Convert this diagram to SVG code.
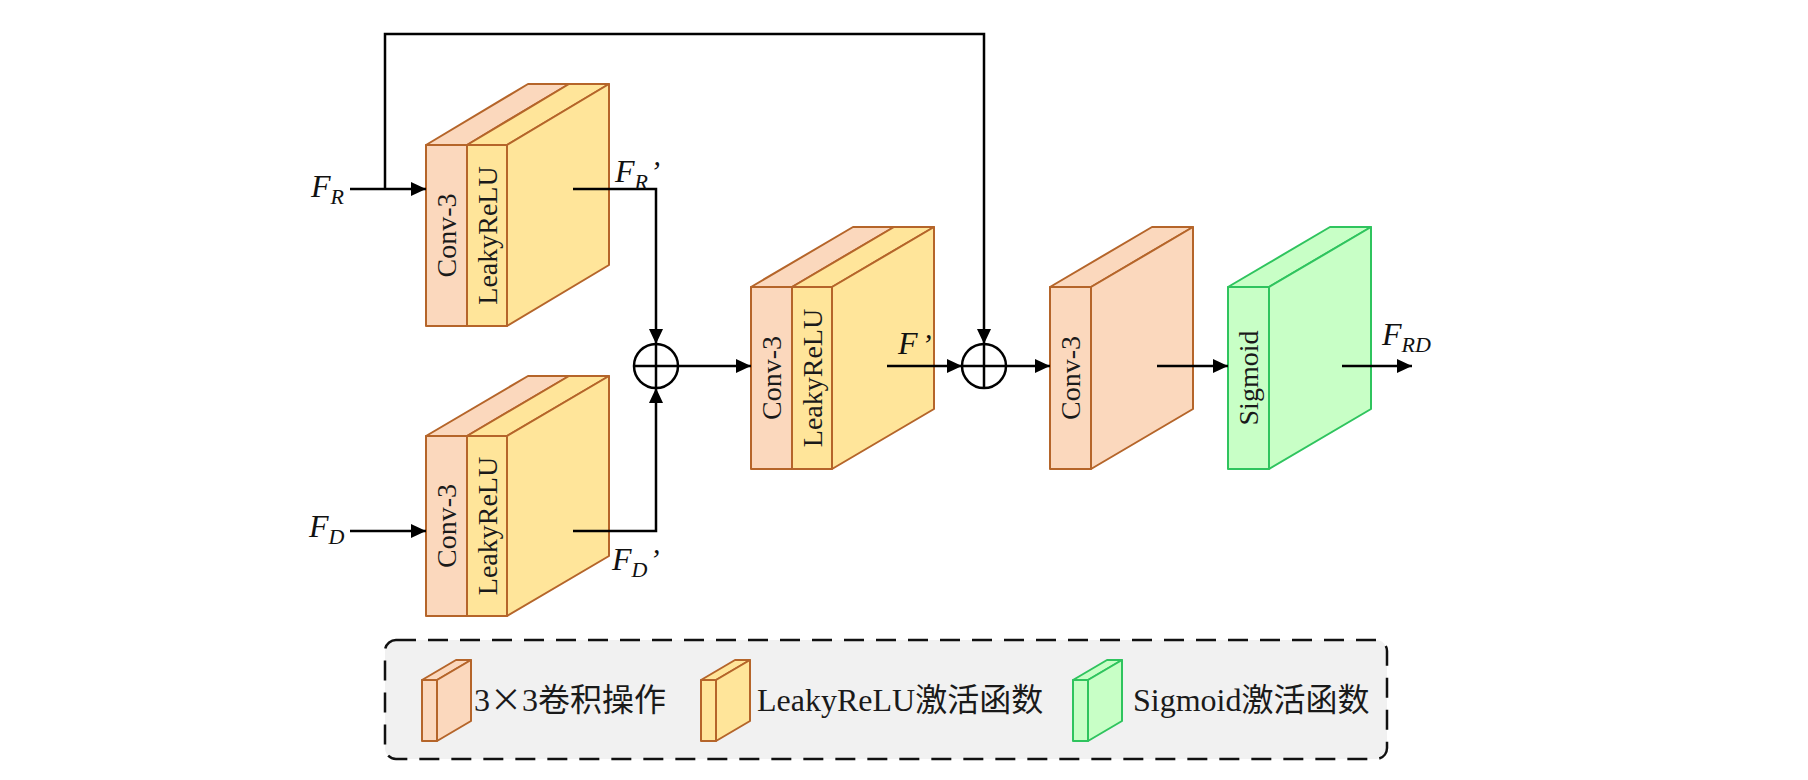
<svg xmlns="http://www.w3.org/2000/svg" width="1808" height="780" viewBox="0 0 1808 780">
<defs>
<style>
.conv{fill:#FBD8BD;stroke:#B5652A;stroke-width:2;stroke-linejoin:round}
.leaky{fill:#FFE59A;stroke:#B5652A;stroke-width:2;stroke-linejoin:round}
.sig{fill:#C8FFC6;stroke:#2FC45E;stroke-width:2;stroke-linejoin:round}
.lbl{font-family:"Liberation Serif","Times New Roman",serif;font-size:28px;fill:#1a1a1a}
.math{font-family:"Liberation Serif","Times New Roman",serif;font-style:italic;fill:#111}
.leg{font-family:"Liberation Serif","Noto Sans CJK SC",serif;font-size:32px;fill:#1a1a1a}
.cjk{font-family:"Noto Sans CJK SC",sans-serif}
.wire{fill:none;stroke:#000;stroke-width:2.5}
</style>
<marker id="ah" markerUnits="userSpaceOnUse" markerWidth="16" markerHeight="14" refX="15" refY="7" orient="auto">
<path d="M0,0 L15,7 L0,14 Z" fill="#000"/>
</marker>
</defs>
<rect width="1808" height="780" fill="#fff"/>

<!-- block 1 -->
<g id="block1">
<rect class="conv" x="426" y="145" width="41" height="181"/>
<polygon class="conv" points="426,145 467,145 569,84 528,84"/>
<rect class="leaky" x="467" y="145" width="40" height="181"/>
<polygon class="leaky" points="467,145 507,145 609,84 569,84"/>
<polygon class="leaky" points="507,145 609,84 609,265 507,326"/>
<text class="lbl" transform="translate(446.5,235.5) rotate(-90)" text-anchor="middle" dominant-baseline="central">Conv-3</text>
<text class="lbl" transform="translate(487,235.5) rotate(-90)" text-anchor="middle" dominant-baseline="central">LeakyReLU</text>
</g>

<!-- block 2 -->
<g id="block2">
<rect class="conv" x="426" y="436" width="41" height="180"/>
<polygon class="conv" points="426,436 467,436 569,376 528,376"/>
<rect class="leaky" x="467" y="436" width="40" height="180"/>
<polygon class="leaky" points="467,436 507,436 609,376 569,376"/>
<polygon class="leaky" points="507,436 609,376 609,556 507,616"/>
<text class="lbl" transform="translate(446.5,526) rotate(-90)" text-anchor="middle" dominant-baseline="central">Conv-3</text>
<text class="lbl" transform="translate(487,526) rotate(-90)" text-anchor="middle" dominant-baseline="central">LeakyReLU</text>
</g>

<!-- add 1 -->
<g id="add1">
<circle cx="656" cy="366" r="22" fill="#fff" stroke="#000" stroke-width="2.5"/>
<path d="M634,366 H678 M656,344 V388" stroke="#000" stroke-width="2.5"/>
</g>

<!-- block 3 -->
<g id="block3">
<rect class="conv" x="751" y="287" width="41" height="182"/>
<polygon class="conv" points="751,287 792,287 894,227 853,227"/>
<rect class="leaky" x="792" y="287" width="40" height="182"/>
<polygon class="leaky" points="792,287 832,287 934,227 894,227"/>
<polygon class="leaky" points="832,287 934,227 934,409 832,469"/>
<text class="lbl" transform="translate(771.5,378) rotate(-90)" text-anchor="middle" dominant-baseline="central">Conv-3</text>
<text class="lbl" transform="translate(812,378) rotate(-90)" text-anchor="middle" dominant-baseline="central">LeakyReLU</text>
</g>

<!-- add 2 -->
<g id="add2">
<circle cx="984" cy="366" r="22" fill="#fff" stroke="#000" stroke-width="2.5"/>
<path d="M962,366 H1006 M984,344 V388" stroke="#000" stroke-width="2.5"/>
</g>

<!-- block 4 -->
<g id="block4">
<rect class="conv" x="1050" y="287" width="41" height="182"/>
<polygon class="conv" points="1050,287 1091,287 1193,227 1152,227"/>
<polygon class="conv" points="1091,287 1193,227 1193,409 1091,469"/>
<text class="lbl" transform="translate(1070.5,378) rotate(-90)" text-anchor="middle" dominant-baseline="central">Conv-3</text>
</g>

<!-- sigmoid -->
<g id="sigmoid">
<rect class="sig" x="1228" y="287" width="41" height="182"/>
<polygon class="sig" points="1228,287 1269,287 1371,227 1330,227"/>
<polygon class="sig" points="1269,287 1371,227 1371,409 1269,469"/>
<text class="lbl" transform="translate(1248.5,378) rotate(-90)" text-anchor="middle" dominant-baseline="central">Sigmoid</text>
</g>

<!-- connectors -->
<g id="connectors">
<path class="wire" d="M350,189 H426" marker-end="url(#ah)"/>
<path class="wire" d="M385,189 V34 H984 V344" marker-end="url(#ah)"/>
<path class="wire" d="M350,531 H426" marker-end="url(#ah)"/>
<path class="wire" d="M573,189 H656 V344" marker-end="url(#ah)"/>
<path class="wire" d="M573,531 H656 V388" marker-end="url(#ah)"/>
<path class="wire" d="M678,366 H751" marker-end="url(#ah)"/>
<path class="wire" d="M887,366 H962" marker-end="url(#ah)"/>
<path class="wire" d="M1006,366 H1050" marker-end="url(#ah)"/>
<path class="wire" d="M1157,366 H1228" marker-end="url(#ah)"/>
<path class="wire" d="M1342,366 H1412" marker-end="url(#ah)"/>
</g>

<!-- labels -->
<g id="labels">
<text class="math" x="311" y="197" font-size="32">F<tspan font-size="22" dy="7">R</tspan></text>
<text class="math" x="309" y="537" font-size="32">F<tspan font-size="22" dy="7">D</tspan></text>
<text class="math" x="615" y="182" font-size="32">F<tspan font-size="22" dy="7">R</tspan><tspan font-size="30" dy="-8" dx="2">’</tspan></text>
<text class="math" x="612" y="570" font-size="32">F<tspan font-size="22" dy="7">D</tspan><tspan font-size="30" dy="-8" dx="2">’</tspan></text>
<text class="math" x="898" y="354" font-size="32">F<tspan font-size="30" dx="4">’</tspan></text>
<text class="math" x="1382" y="345" font-size="32">F<tspan font-size="22" dy="7">RD</tspan></text>
</g>

<!-- legend -->
<g id="legend">
<rect x="385" y="640" width="1002" height="119" rx="11" ry="11" fill="#F1F1F1" stroke="#111" stroke-width="2.5" stroke-dasharray="20,12"/>
<g id="legend-conv">
<rect class="conv" x="422" y="680" width="15" height="61"/>
<polygon class="conv" points="422,680 437,680 471,660 456,660"/>
<polygon class="conv" points="437,680 471,660 471,721 437,741"/>
<text class="leg" x="474" y="711">3<tspan class="cjk">×</tspan>3卷积操作</text>
</g>
<g id="legend-leaky">
<rect class="leaky" x="701" y="680" width="15" height="61"/>
<polygon class="leaky" points="701,680 716,680 750,660 735,660"/>
<polygon class="leaky" points="716,680 750,660 750,721 716,741"/>
<text class="leg" x="757" y="711">LeakyReLU激活函数</text>
</g>
<g id="legend-sig">
<rect class="sig" x="1073" y="680" width="15" height="61"/>
<polygon class="sig" points="1073,680 1088,680 1122,660 1107,660"/>
<polygon class="sig" points="1088,680 1122,660 1122,721 1088,741"/>
<text class="leg" x="1133" y="711">Sigmoid激活函数</text>
</g>
</g>
</svg>
